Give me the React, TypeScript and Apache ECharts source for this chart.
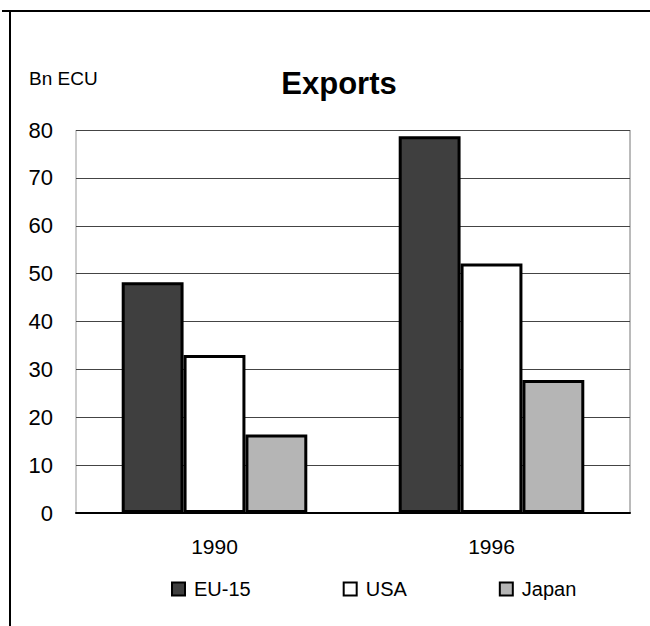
import React, { useEffect, useRef } from "react";
import * as echarts from "echarts";

const categories = ["1990", "1996"];
const eu15 = [48.2, 78.7];
const usa = [33.0, 52.1];
const japan = [16.4, 27.8];
const seriesNames = ["EU-15", "USA", "Japan"];
const yTicks = [0, 10, 20, 30, 40, 50, 60, 70, 80];

const FONT = "'Liberation Sans', Arial, sans-serif";

export default function App() {
  const ref = useRef<HTMLDivElement>(null);
  useEffect(() => {
    if (!ref.current) return;
    const chart = echarts.init(ref.current, null, { renderer: "svg" });
    const barStyle = (color: string) => ({
      color,
      borderColor: "#000",
      borderWidth: 3,
    });
    chart.setOption({
      animation: false,
      backgroundColor: "#fff",
      title: {
        text: "Exports",
        left: 334,
        top: 63,
        textAlign: "center",
        textStyle: { fontFamily: FONT, fontSize: 31, fontWeight: "bold", color: "#000" },
      },
      graphic: [
        { type: "line", shape: { x1: 2, y1: 11, x2: 650, y2: 11 }, style: { stroke: "#000", lineWidth: 2 } },
        { type: "line", shape: { x1: 10, y1: 11, x2: 10, y2: 626 }, style: { stroke: "#000", lineWidth: 2 } },
        {
          type: "text",
          left: 29,
          top: 69,
          style: { text: "Bn ECU", fontFamily: FONT, fontSize: 19, fill: "#000" },
        },
        { type: "line", shape: { x1: 630, y1: 130, x2: 630, y2: 513 }, style: { stroke: "#777", lineWidth: 1 } },
        { type: "line", shape: { x1: 76, y1: 130, x2: 76, y2: 513 }, style: { stroke: "#999", lineWidth: 1 } },
      ],
      legend: {
        data: seriesNames,
        top: 574,
        left: 166,
        itemGap: 92,
        itemWidth: 13,
        itemHeight: 13,
        icon: "rect",
        textStyle: { fontFamily: FONT, fontSize: 20, color: "#000", padding: [0, 0, 0, 4] },
      },
      grid: { left: 76, right: 20, top: 130, bottom: 113 },
      xAxis: {
        type: "category",
        data: categories,
        axisLine: { lineStyle: { color: "#000", width: 2 } },
        axisTick: { show: false },
        axisLabel: { fontFamily: FONT, fontSize: 21, color: "#000", margin: 23 },
      },
      yAxis: {
        type: "value",
        min: yTicks[0],
        max: yTicks[yTicks.length - 1],
        interval: 10,
        axisLine: { show: false },
        axisTick: { show: false },
        axisLabel: { fontFamily: FONT, fontSize: 22, color: "#000", margin: 23 },
        splitLine: { lineStyle: { color: "#444", width: 1 } },
      },
      series: [
        { name: seriesNames[0], type: "bar", data: eu15, barGap: "0%", barCategoryGap: "33%", itemStyle: barStyle("#3f3f3f") },
        { name: seriesNames[1], type: "bar", data: usa, barGap: "0%", barCategoryGap: "33%", itemStyle: barStyle("#ffffff") },
        { name: seriesNames[2], type: "bar", data: japan, barGap: "0%", barCategoryGap: "33%", itemStyle: barStyle("#b5b5b5") },
      ],
    });
    return () => chart.dispose();
  }, []);
  return <div ref={ref} style={{ width: 650, height: 626, position: "absolute", left: 0, top: 0 }} />;
}
